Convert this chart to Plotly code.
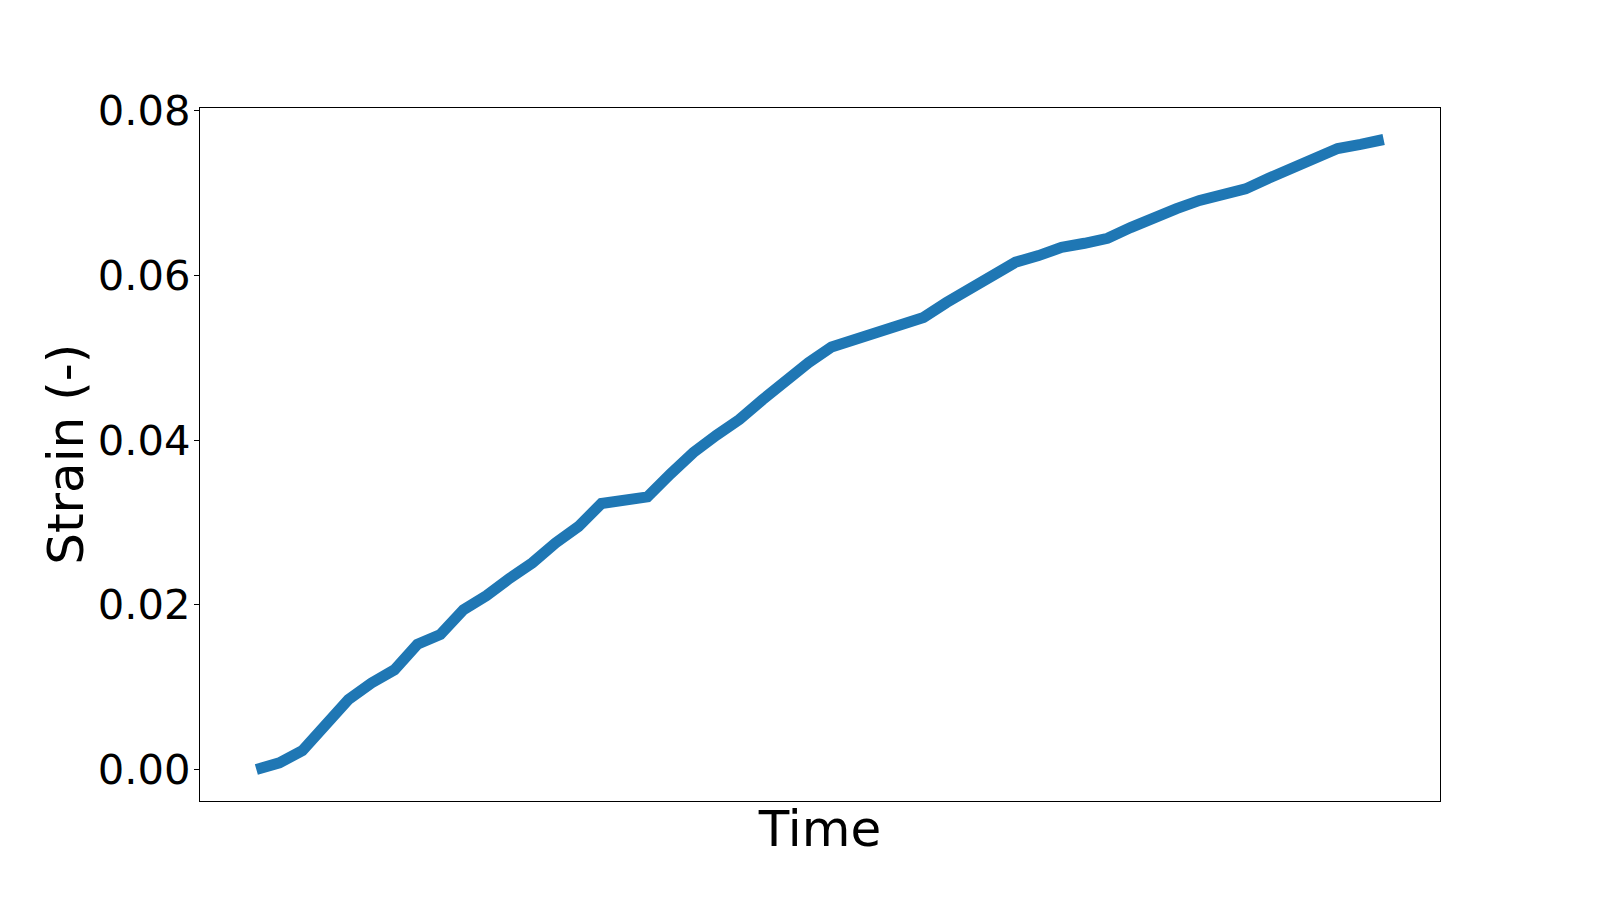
"""Strain over time

Single thick line, matplotlib-like framed axes.
"""

import plotly.graph_objs as go

#---------------------------------------------------------------------------------->
# data (time steps have no units / no tick labels)
time_steps = list(range(50))
strain = [0.0000, 0.0008, 0.0023, 0.0055, 0.0085, 0.0105, 0.0121, 0.0152, 0.0164, 0.0194,
          0.0211, 0.0232, 0.0251, 0.0275, 0.0295, 0.0323, 0.0327, 0.0331, 0.0359, 0.0385,
          0.0406, 0.0425, 0.0449, 0.0473, 0.0494, 0.0513, 0.0522, 0.0530, 0.0539, 0.0549,
          0.0567, 0.0584, 0.0600, 0.0616, 0.0624, 0.0634, 0.0639, 0.0645, 0.0658, 0.0671,
          0.0681, 0.0691, 0.0698, 0.0705, 0.0718, 0.0730, 0.0742, 0.0754, 0.0759, 0.0765]
y_ticks = [0.00, 0.02, 0.04, 0.06, 0.08]
y_tick_text = ['0.00', '0.02', '0.04', '0.06', '0.08']

#---------------------------------------------------------------------------------->
def _padded(lo, hi, frac=0.05):
    span = hi - lo
    return [lo - frac * span, hi + frac * span]

trace = go.Scatter(x=time_steps, y=strain, mode='lines',
                   line=dict(color='#1f77b4', width=11), showlegend=False)

axis_common = dict(showline=True, mirror=True, linecolor='black', linewidth=1.1,
                   showgrid=False, zeroline=False)

# page body adds an 8px offset, margins are shifted to compensate
layout = go.Layout(width=1600, height=900,
                   margin=dict(l=192, r=168, t=100, b=107),
                   plot_bgcolor='white',
                   paper_bgcolor='white',
                   font=dict(family='DejaVu Sans', color='black'),
                   xaxis=dict(range=_padded(min(time_steps), max(time_steps)),
                              showticklabels=False, ticks='',
                              title=dict(text='Time', font=dict(size=50), standoff=9),
                              **axis_common),
                   yaxis=dict(range=_padded(min(strain), max(strain)),
                              tickvals=y_ticks, ticktext=y_tick_text,
                              ticks='outside', ticklen=5, tickwidth=1.1, tickcolor='black',
                              tickfont=dict(size=41.7), ticklabelstandoff=-5,
                              **axis_common),
                   annotations=[dict(text='Strain (-)', textangle=-90,
                                     xref='paper', yref='paper', x=-0.1086, y=0.5,
                                     xanchor='center', yanchor='middle', showarrow=False,
                                     font=dict(size=50))])

fig = go.Figure(data=[trace], layout=layout)
fig.write_html('out.html')
